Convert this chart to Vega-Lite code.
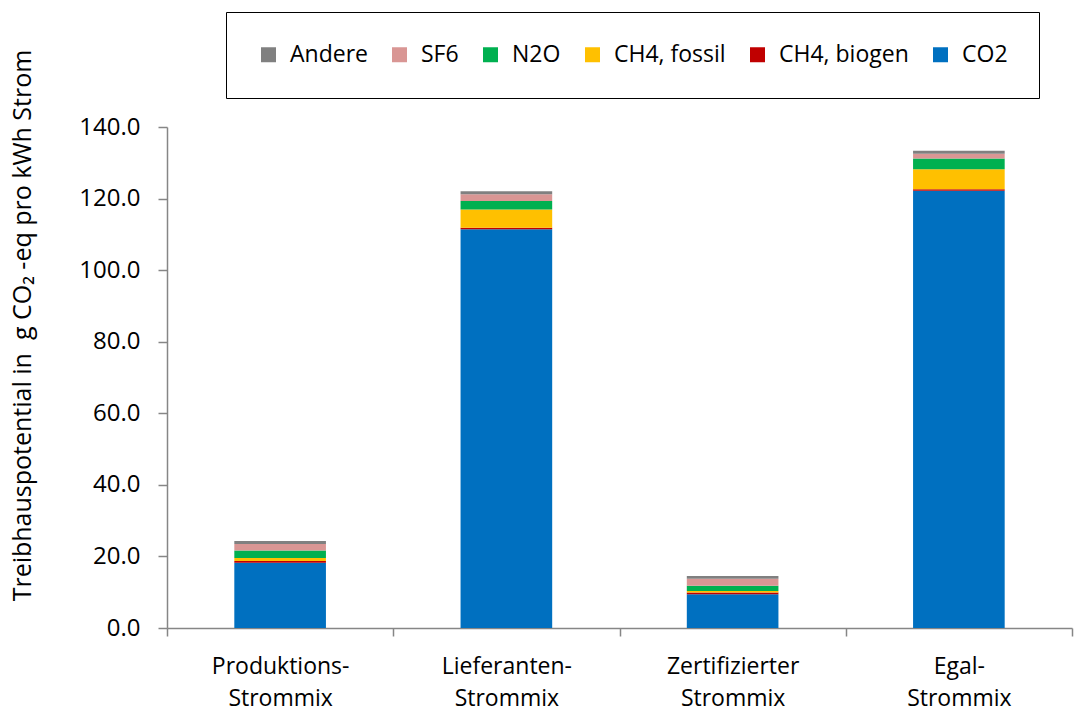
{
  "$schema": "https://vega.github.io/schema/vega-lite/v6.json",
  "width": 905,
  "height": 501,
  "autosize": {"type": "none"},
  "padding": {"left": 167, "top": 127, "right": 4, "bottom": 83},
  "background": "white",
  "config": {
    "font": "Open Sans",
    "view": {"stroke": null}
  },
  "data": {
    "values": [
      {"mix": "Produktions-|Strommix", "gas": "CO2", "ord": 1, "value": 18.25},
      {"mix": "Produktions-|Strommix", "gas": "CH4, biogen", "ord": 2, "value": 0.45},
      {"mix": "Produktions-|Strommix", "gas": "CH4, fossil", "ord": 3, "value": 0.85},
      {"mix": "Produktions-|Strommix", "gas": "N2O", "ord": 4, "value": 2.1},
      {"mix": "Produktions-|Strommix", "gas": "SF6", "ord": 5, "value": 1.8},
      {"mix": "Produktions-|Strommix", "gas": "Andere", "ord": 6, "value": 0.85},
      {"mix": "Lieferanten-|Strommix", "gas": "CO2", "ord": 1, "value": 111.4},
      {"mix": "Lieferanten-|Strommix", "gas": "CH4, biogen", "ord": 2, "value": 0.45},
      {"mix": "Lieferanten-|Strommix", "gas": "CH4, fossil", "ord": 3, "value": 5.1},
      {"mix": "Lieferanten-|Strommix", "gas": "N2O", "ord": 4, "value": 2.4},
      {"mix": "Lieferanten-|Strommix", "gas": "SF6", "ord": 5, "value": 1.85},
      {"mix": "Lieferanten-|Strommix", "gas": "Andere", "ord": 6, "value": 0.85},
      {"mix": "Zertifizierter|Strommix", "gas": "CO2", "ord": 1, "value": 9.4},
      {"mix": "Zertifizierter|Strommix", "gas": "CH4, biogen", "ord": 2, "value": 0.55},
      {"mix": "Zertifizierter|Strommix", "gas": "CH4, fossil", "ord": 3, "value": 0.37},
      {"mix": "Zertifizierter|Strommix", "gas": "N2O", "ord": 4, "value": 1.5},
      {"mix": "Zertifizierter|Strommix", "gas": "SF6", "ord": 5, "value": 1.95},
      {"mix": "Zertifizierter|Strommix", "gas": "Andere", "ord": 6, "value": 0.75},
      {"mix": "Egal-|Strommix", "gas": "CO2", "ord": 1, "value": 122.2},
      {"mix": "Egal-|Strommix", "gas": "CH4, biogen", "ord": 2, "value": 0.4},
      {"mix": "Egal-|Strommix", "gas": "CH4, fossil", "ord": 3, "value": 5.6},
      {"mix": "Egal-|Strommix", "gas": "N2O", "ord": 4, "value": 3.0},
      {"mix": "Egal-|Strommix", "gas": "SF6", "ord": 5, "value": 1.3},
      {"mix": "Egal-|Strommix", "gas": "Andere", "ord": 6, "value": 0.85}
    ]
  },
  "mark": {"type": "bar", "width": {"band": 0.405}},
  "encoding": {
    "x": {
      "field": "mix",
      "type": "nominal",
      "sort": null,
      "scale": {"paddingInner": 0, "paddingOuter": 0},
      "axis": {
        "title": null,
        "labelAngle": 0,
        "labelExpr": "datum.value ? split(datum.value, '|') : ''",
        "labelFontSize": 23,
        "labelColor": "#000000",
        "labelPadding": 19,
        "labelLineHeight": 32,
        "tickBand": "extent",
        "tickSize": 8,
        "tickColor": "#868686",
        "domainColor": "#868686",
        "domainWidth": 1.5,
        "tickWidth": 1.5
      }
    },
    "y": {
      "field": "value",
      "type": "quantitative",
      "stack": "zero",
      "scale": {"domain": [0, 140], "nice": false},
      "axis": {
        "title": "Treibhauspotential in\u00a0 g CO₂ -eq pro kWh Strom",
        "titleFontSize": 25,
        "titleFontWeight": "normal",
        "titleColor": "#000000",
        "titleAngle": -90,
        "titleBaseline": "bottom",
        "titleAlign": "center",
        "titleX": -132,
        "titleY": 198,
        "values": [0, 20, 40, 60, 80, 100, 120, 140],
        "format": ".1f",
        "labelFontSize": 24,
        "labelColor": "#000000",
        "labelPadding": 18,
        "grid": false,
        "tickSize": 9,
        "tickColor": "#868686",
        "domainColor": "#868686",
        "domainWidth": 1.5,
        "tickWidth": 1.5
      }
    },
    "color": {
      "field": "gas",
      "type": "nominal",
      "scale": {
        "domain": ["Andere", "SF6", "N2O", "CH4, fossil", "CH4, biogen", "CO2"],
        "range": ["#808080", "#D99694", "#00B050", "#FFC000", "#C00000", "#0070C0"]
      },
      "legend": {
        "title": null,
        "orient": "none",
        "direction": "horizontal",
        "legendX": 59,
        "legendY": -115,
        "padding": 31,
        "strokeColor": "#000000",
        "symbolType": "square",
        "symbolSize": 225,
        "symbolStrokeWidth": 0,
        "labelFontSize": 23,
        "labelColor": "#000000",
        "columnPadding": 20,
        "labelOffset": 10,
        "labelLimit": 300
      }
    },
    "order": {"field": "ord", "type": "quantitative", "sort": "ascending"}
  }
}
